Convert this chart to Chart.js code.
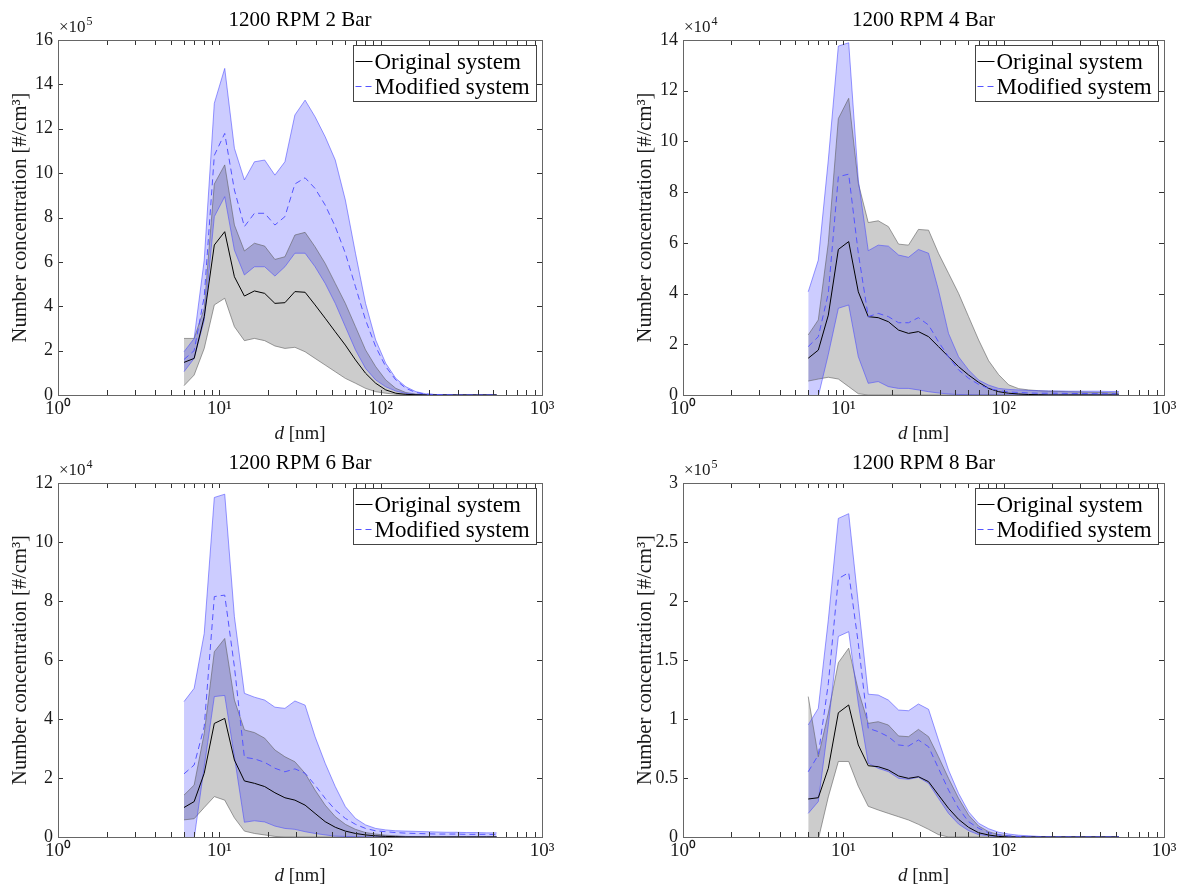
<!DOCTYPE html>
<html><head><meta charset="utf-8">
<script src="https://cdn.jsdelivr.net/npm/chart.js@4.4.1/dist/chart.umd.min.js"></script>
<style>
html,body{margin:0;padding:0;background:#fff;width:1184px;height:889px;overflow:hidden}
.p{position:absolute}
</style></head><body>
<div class="p" style="left:0;top:0;width:592px;height:445px"><canvas id="c0"></canvas></div>
<div class="p" style="left:625px;top:0;width:559px;height:445px"><canvas id="c1"></canvas></div>
<div class="p" style="left:0;top:443px;width:592px;height:446px"><canvas id="c2"></canvas></div>
<div class="p" style="left:625px;top:443px;width:559px;height:446px"><canvas id="c3"></canvas></div>
<script>
// ---- data ----
const diameters = [6.04, 6.98, 8.06, 9.31, 10.8, 12.4, 14.3, 16.5, 19.1, 22.1, 25.5, 29.4, 34.0, 39.2, 45.3, 52.3, 60.4, 69.8, 80.6, 93.1, 107.5, 124.1, 143.3, 165.5, 191.1, 220.7, 254.8, 294.3, 339.8, 392.4, 453.2, 523.3];

const titles = ['1200 RPM 2 Bar', '1200 RPM 4 Bar', '1200 RPM 6 Bar', '1200 RPM 8 Bar'];
const exponents = ['5', '4', '4', '5'];
const yMaxes = [16, 14, 12, 3];
const ySteps = [2, 2, 2, 0.5];
const xTickValues = [1, 10, 100, 1000];
const xTickLabels = ['10\u2070', '10\u00b9', '10\u00b2', '10\u00b3'];
const seriesLabels = ['Original system', 'Modified system'];
const yTitle = 'Number concentration [#/cm\u00b3]';

// 2 Bar (x1e5)
const origMean2  = [1.47,1.65,3.53,6.76,7.36,5.33,4.46,4.69,4.58,4.13,4.16,4.66,4.63,4.06,3.46,2.85,2.25,1.58,0.98,0.53,0.23,0.08,0.03,0.01,0,0,0,0,0,0,0,0];
const origUpper2 = [2.55,2.55,3.9,9.51,10.37,7.66,6.49,6.84,6.71,6.11,6.23,7.21,7.33,6.68,5.93,5.03,4.13,3.08,2.03,1.28,0.68,0.30,0.11,0.04,0.01,0,0,0,0,0,0,0];
const origLower2 = [0.42,0.90,2.10,4.06,4.36,3.08,2.45,2.55,2.45,2.21,2.10,2.15,1.95,1.65,1.35,1.05,0.75,0.53,0.30,0.15,0.08,0.03,0.01,0,0,0,0,0,0,0,0,0];
const modMean2   = [1.6,2.0,4.43,10.8,11.79,9.24,7.59,8.19,8.19,7.66,8.04,9.51,9.79,9.31,8.56,7.59,6.39,4.88,3.38,2.18,1.28,0.68,0.30,0.11,0.04,0.02,0.01,0,0,0,0,0];
const modUpper2  = [1.95,2.55,6.08,13.15,14.72,11.12,9.69,10.51,10.59,9.91,10.51,12.62,13.29,12.54,11.64,10.59,8.79,6.39,4.13,2.48,1.43,0.75,0.37,0.15,0.05,0.02,0.01,0,0,0,0,0];
const modLower2  = [1.05,1.65,3.38,8.04,8.94,6.53,5.41,5.78,5.78,5.36,5.78,6.39,6.39,5.78,5.03,4.13,3.08,2.03,1.20,0.68,0.37,0.18,0.07,0.02,0,0,0,0,0,0,0,0];

// 4 Bar (x1e4)
const origMean4  = [1.45,1.77,3.15,5.74,6.05,4.07,3.09,3.05,2.89,2.56,2.43,2.50,2.30,1.91,1.51,1.12,0.79,0.50,0.26,0.13,0.07,0.04,0.02,0.01,0,0,0,0,0,0,0,0];
const origUpper4 = [2.37,2.96,6.0,10.9,11.7,8.35,6.8,6.87,6.64,5.95,5.91,6.53,6.5,5.59,4.8,4.01,3.09,2.17,1.35,0.8,0.4,0.25,0.2,0.17,0.15,0.14,0.13,0.12,0.11,0.1,0.09,0.08];
const origLower4 = [0.55,0.63,0.70,0.63,0.33,0.05,0,0,0,0,0,0,0,0,0,0,0,0,0,0,0,0,0,0,0,0,0,0,0,0,0,0];
const modMean4   = [1.91,2.30,4.01,8.61,8.71,5.59,3.09,3.22,3.09,2.85,2.85,3.05,2.76,2.10,1.51,0.99,0.66,0.42,0.26,0.17,0.12,0.10,0.08,0.07,0.07,0.07,0.06,0.06,0.06,0.05,0.05,0.05];
const modUpper4  = [4.07,5.32,9.27,13.76,13.89,8.48,5.69,5.91,5.87,5.52,5.43,5.74,5.59,4.14,2.43,1.51,0.99,0.59,0.39,0.26,0.22,0.20,0.18,0.17,0.16,0.16,0.15,0.15,0.15,0.15,0.14,0.14];
const modLower4  = [-1.5,-0.05,1.6,3.42,3.55,1.51,0.46,0.53,0.33,0.26,0.26,0.20,0.13,0.08,0.04,0.02,0.01,0,0,0,0,0,0,0,0,0,0,0,0,0,0,0];

// 6 Bar (x1e4)
const origMean6  = [1.0,1.2,2.16,3.85,4.02,2.61,1.90,1.82,1.71,1.50,1.33,1.25,1.08,0.80,0.52,0.33,0.20,0.12,0.07,0.04,0.02,0.01,0,0,0,0,0,0,0,0,0,0];
const origUpper6 = [1.42,1.76,3.51,6.28,6.73,4.64,3.63,3.54,3.35,2.95,2.72,2.55,2.16,1.59,1.08,0.69,0.43,0.26,0.15,0.10,0.06,0.04,0.02,0.01,0,0,0,0,0,0,0,0];
const origLower6 = [0.58,0.62,1.0,1.37,1.25,0.65,0.2,0.12,0.07,0.02,0,0,0,0,0,0,0,0,0,0,0,0,0,0,0,0,0,0,0,0,0,0];
const modMean6   = [2.14,2.44,3.74,8.15,8.2,5.77,2.70,2.65,2.53,2.33,2.21,2.31,2.16,1.76,1.31,0.92,0.63,0.43,0.29,0.21,0.18,0.15,0.13,0.12,0.11,0.10,0.10,0.10,0.09,0.09,0.09,0.08];
const modUpper6  = [4.59,5.04,6.9,11.51,11.62,7.47,4.87,4.74,4.64,4.40,4.36,4.61,4.47,3.40,2.50,1.71,1.03,0.63,0.41,0.29,0.24,0.21,0.20,0.19,0.18,0.17,0.16,0.16,0.15,0.15,0.14,0.14];
const modLower6  = [-0.3,-0.05,2.38,4.76,4.8,2.72,0.50,0.55,0.51,0.37,0.29,0.26,0.18,0.12,0.07,0.03,0.02,0.01,0,0,0,0,0,0,0,0,0,0,0,0,0,0];

// 8 Bar (x1e5)
const origMean8  = [0.322,0.333,0.582,1.053,1.119,0.78,0.604,0.596,0.568,0.517,0.497,0.511,0.469,0.356,0.243,0.15,0.082,0.036,0.017,0.005,0,0,0,0,0,0,0,0,0,0,0,0];
const origUpper8 = [1.19,0.68,1.05,1.477,1.6,1.24,0.963,0.977,0.949,0.856,0.85,0.912,0.85,0.68,0.497,0.328,0.186,0.093,0.045,0.02,0.01,0,0,0,0,0,0,0,0,0,0,0];
const origLower8 = [0,-0.02,0.34,0.64,0.64,0.43,0.26,0.229,0.2,0.172,0.144,0.107,0.065,0.02,0,0,0,0,0,0,0,0,0,0,0,0,0,0,0,0,0,0];
const modMean8   = [0.553,0.695,1.30,2.19,2.24,1.64,0.921,0.893,0.85,0.78,0.771,0.822,0.765,0.582,0.398,0.243,0.13,0.074,0.036,0.017,0.01,0.005,0,0,0,0,0,0,0,0,0,0];
const modUpper8  = [0.95,1.09,1.84,2.70,2.74,1.98,1.21,1.203,1.16,1.076,1.07,1.127,1.082,0.822,0.568,0.37,0.214,0.116,0.07,0.04,0.025,0.015,0.01,0.005,0,0,0,0,0,0,0,0];
const modLower8  = [0.2,0.30,0.95,1.70,1.74,1.13,0.625,0.582,0.554,0.497,0.489,0.506,0.455,0.328,0.2,0.11,0.054,0.02,0.01,0,0,0,0,0,0,0,0,0,0,0,0,0];

// ---- rendering ----
const FONT = "'Liberation Serif', 'Times New Roman', serif";
Chart.defaults.font.family = FONT;
Chart.defaults.color = '#1a1a1a';

const panels = [
  {id:'c0', padR:50, xAxisH:50, series:[origMean2, origUpper2, origLower2, modMean2, modUpper2, modLower2]},
  {id:'c1', padR:20, xAxisH:50, series:[origMean4, origUpper4, origLower4, modMean4, modUpper4, modLower4]},
  {id:'c2', padR:50, xAxisH:52, series:[origMean6, origUpper6, origLower6, modMean6, modUpper6, modLower6]},
  {id:'c3', padR:20, xAxisH:52, series:[origMean8, origUpper8, origLower8, modMean8, modUpper8, modLower8]}
];

const pts = vals => vals.map((v, i) => ({x: diameters[i], y: v}));

const GRAY_FILL = 'rgba(128,128,128,0.4)';
const GRAY_EDGE = 'rgba(95,95,95,0.6)';
const BLUE_FILL = 'rgba(0,0,255,0.2)';
const BLUE_EDGE = 'rgba(70,70,255,0.55)';

const framePlugin = {
  id: 'matlabFrame',
  afterDraw(chart, args, o) {
    const {ctx, chartArea: a, scales: {x, y}} = chart;
    ctx.save();
    const L = 5;
    ctx.strokeStyle = '#333';
    ctx.lineWidth = 1;
    ctx.beginPath();
    for (let d = 1; d <= 1000; d *= 10) {
      const maxM = d === 1000 ? 1 : 9;
      for (let m = 1; m <= maxM; m++) {
        const px = Math.round(x.getPixelForValue(d * m)) + 0.5;
        ctx.moveTo(px, a.bottom); ctx.lineTo(px, a.bottom - L);
        ctx.moveTo(px, a.top); ctx.lineTo(px, a.top + L);
      }
    }
    y.ticks.forEach(t => {
      const py = Math.round(y.getPixelForValue(t.value)) + 0.5;
      ctx.moveTo(a.left, py); ctx.lineTo(a.left + L, py);
      ctx.moveTo(a.right, py); ctx.lineTo(a.right - L, py);
    });
    ctx.stroke();
    ctx.strokeStyle = '#666';
    ctx.strokeRect(Math.round(a.left) + 0.5, Math.round(a.top) + 0.5, Math.round(a.right - a.left), Math.round(a.bottom - a.top));

    // exponent
    ctx.fillStyle = '#1a1a1a';
    ctx.textAlign = 'left';
    ctx.textBaseline = 'alphabetic';
    ctx.font = `17px ${FONT}`;
    ctx.fillText('\u00d710', a.left + 1, a.top - 8);
    const ew = ctx.measureText('\u00d710').width;
    ctx.font = `12px ${FONT}`;
    ctx.fillText(o.exponent, a.left + 2 + ew, a.top - 15);

    // x axis title: italic d + [nm]
    ctx.font = `italic 19px ${FONT}`;
    const w1 = ctx.measureText('d').width;
    ctx.font = `19px ${FONT}`;
    const w2 = ctx.measureText(' [nm]').width;
    const sx = (a.left + a.right) / 2 - (w1 + w2) / 2;
    const base = a.bottom + 44;
    ctx.font = `italic 19px ${FONT}`;
    ctx.fillText('d', sx, base);
    ctx.font = `19px ${FONT}`;
    ctx.fillText(' [nm]', sx + w1, base);

    // legend
    const items = chart.data.datasets.filter(d => d.legendRank).sort((p, q) => p.legendRank - q.legendRank);
    ctx.font = `23px ${FONT}`;
    const tw = Math.max(...items.map(d => ctx.measureText(d.label).width));
    const bw = Math.round(21 + tw + 7), bh = 56;
    const bx = Math.round(a.right - 6 - bw) + 0.5, by = Math.round(a.top + 5) + 0.5;
    ctx.fillStyle = '#fff';
    ctx.fillRect(bx, by, bw, bh);
    ctx.strokeStyle = '#444';
    ctx.strokeRect(bx, by, bw, bh);
    items.forEach((d, i) => {
      const cy = Math.round(by + 15 + i * 25) + 0.5;
      ctx.beginPath();
      ctx.setLineDash(d.borderDash || []);
      ctx.strokeStyle = d.borderColor;
      ctx.lineWidth = 1;
      ctx.moveTo(bx + 2, cy); ctx.lineTo(bx + 19, cy);
      ctx.stroke();
      ctx.setLineDash([]);
      ctx.fillStyle = '#000';
      ctx.textBaseline = 'middle';
      ctx.textAlign = 'left';
      ctx.fillText(d.label, bx + 21, cy + 1);
    });
    ctx.restore();
  }
};

panels.forEach((p, k) => {
  const [oM, oU, oL, mM, mU, mL] = p.series;
  new Chart(document.getElementById(p.id), {
    type: 'line',
    data: {
      datasets: [
        {label: seriesLabels[1], legendRank: 2, data: pts(mM), borderColor: 'rgb(85,85,255)', borderWidth: 1, borderDash: [6, 4], fill: false},
        {label: seriesLabels[0], legendRank: 1, data: pts(oM), borderColor: '#000', borderWidth: 1, fill: false},
        {label: 'Modified upper', data: pts(mU), borderColor: BLUE_EDGE, borderWidth: 1, backgroundColor: BLUE_FILL, fill: '+1'},
        {label: 'Modified lower', data: pts(mL), borderColor: BLUE_EDGE, borderWidth: 1, fill: false},
        {label: 'Original upper', data: pts(oU), borderColor: GRAY_EDGE, borderWidth: 1, backgroundColor: GRAY_FILL, fill: '+1'},
        {label: 'Original lower', data: pts(oL), borderColor: GRAY_EDGE, borderWidth: 1, fill: false}
      ]
    },
    options: {
      responsive: true,
      maintainAspectRatio: false,
      animation: false,
      events: [],
      layout: {padding: {left: 0, top: 0, right: p.padR, bottom: 0}},
      elements: {point: {radius: 0}, line: {tension: 0}},
      plugins: {
        legend: {display: false},
        tooltip: {enabled: false},
        filler: {drawTime: 'beforeDatasetsDraw'},
        title: {display: true, text: titles[k], fullSize: false, color: '#000',
                font: {size: 21, weight: 'normal', lineHeight: 1.2}, padding: {top: 7.4, bottom: 7.4}},
        matlabFrame: {exponent: exponents[k]}
      },
      scales: {
        x: {
          type: 'logarithmic', min: 1, max: 1000,
          afterBuildTicks: s => { s.ticks = xTickValues.map(v => ({value: v})); },
          afterFit: s => { s.height = p.xAxisH; },
          ticks: {autoSkip: false, maxRotation: 0, padding: 3, color: '#1a1a1a', font: {size: 19},
                  callback: (v, i) => xTickLabels[i]},
          grid: {display: false, drawTicks: false},
          border: {display: false}
        },
        y: {
          min: 0, max: yMaxes[k],
          afterFit: s => { s.width = 58; },
          ticks: {stepSize: ySteps[k], padding: 5, color: '#1a1a1a', font: {size: 18},
                  callback: v => String(+v.toFixed(2))},
          grid: {display: false, drawTicks: false},
          border: {display: false},
          title: {display: true, text: yTitle, color: '#1a1a1a', font: {size: 20.5, lineHeight: 1.2},
                  padding: {top: 8, bottom: 0}}
        }
      }
    },
    plugins: [framePlugin]
  });
});
</script>
</body></html>
